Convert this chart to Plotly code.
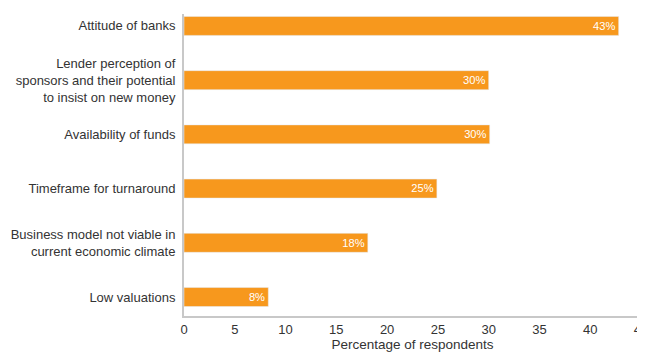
import plotly.graph_objects as go

categories = [
    "Attitude of banks",
    "Lender perception of<br>sponsors and their potential<br>to insist on new money",
    "Availability of funds",
    "Timeframe for turnaround",
    "Business model not viable in<br>current economic climate",
    "Low valuations",
]
values = [42.8, 30.0, 30.1, 24.9, 18.1, 8.3]
labels = ["43%", "30%", "30%", "25%", "18%", "8%"]
x_ticks = [0, 5, 10, 15, 20, 25, 30, 35, 40, 45]

fig = go.Figure(go.Bar(
    y=categories[::-1],
    x=values[::-1],
    text=labels[::-1],
    orientation="h",
    width=0.35,
    marker_color="#F7981D",
    textposition="inside",
    insidetextanchor="end",
    textfont=dict(color="white", size=12, family="Liberation Sans"),
    cliponaxis=False,
))

# page body adds an 8px margin, so the figure is sized to fill the rest
fig.update_layout(
    width=637, height=344,
    margin=dict(l=176, r=4, t=6, b=36),
    plot_bgcolor="white", paper_bgcolor="white",
    font=dict(family="Liberation Sans", size=13, color="#333333"),
    showlegend=False,
)
fig.update_xaxes(
    range=[0, 45], tickvals=x_ticks, ticklabeloverflow="allow",
    showgrid=False, zeroline=False,
    showline=True, linecolor="#c8c8c8", linewidth=2,
    tickfont=dict(size=13, color="#333333"), automargin=False,
    title=dict(text="Percentage of respondents", font=dict(size=13.5), standoff=2),
)
fig.update_yaxes(
    range=[-0.35, 5.22], showgrid=False, automargin=False,
    showline=True, linecolor="#c8c8c8", linewidth=2,
    ticks="", ticklabelstandoff=4, tickfont=dict(size=13),
)

fig.write_html("out.html")
